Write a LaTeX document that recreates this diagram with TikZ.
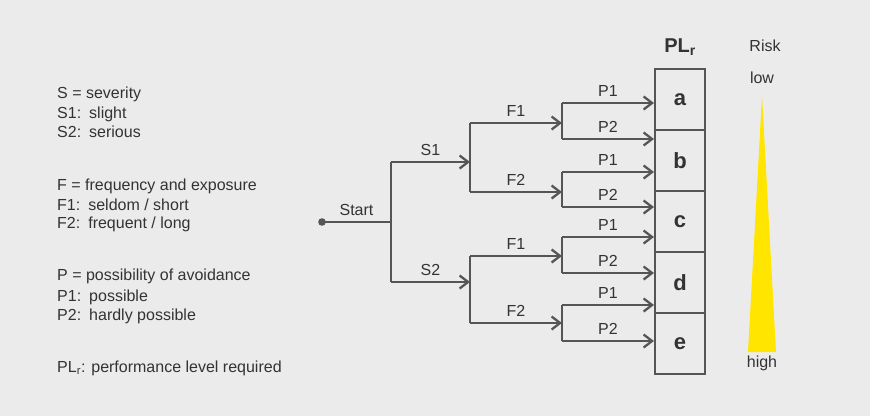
\documentclass[tikz,border=0pt]{standalone}
\usepackage{fontspec}
\setmainfont{Liberation Sans}
\usetikzlibrary{arrows.meta}
\definecolor{bggray}{HTML}{EBEBEC}
\definecolor{txtgray}{HTML}{333333}
\definecolor{linegray}{HTML}{555555}
\definecolor{riskyellow}{HTML}{FFE500}
\begin{document}
\begin{tikzpicture}[x=1pt, y=-1pt,
		every node/.style = {text=txtgray, inner sep=0pt},
		legend/.style = {anchor=west, font=\fontsize{16}{19}\selectfont},
		lbl/.style = {font=\fontsize{16}{19}\selectfont},
		branch/.style = {draw=linegray, line width=2.3pt},
		arr/.style = {branch, -{Straight Barb[length=8.5pt, width=13pt]}},
		plbox/.style = {draw=linegray, line width=1.4pt, minimum width=50pt,
			minimum height=61pt, font=\bfseries\fontsize{22}{25}\selectfont}]
		\useasboundingbox[fill=bggray] (0,0) rectangle (870,416);
		% legend
		\node[legend] (sdef) at (57,94) {S = severity};
		\node[legend] (s1def) at (57,114) {S1:\enspace slight};
		\node[legend] (s2def) at (57,132) {S2:\enspace serious};
		\node[legend] (fdef) at (57,186) {F = frequency and exposure};
		\node[legend] (f1def) at (57,205) {F1:\enspace seldom / short};
		\node[legend] (f2def) at (57,224) {F2:\enspace frequent / long};
		\node[legend] (pdef) at (57,276) {P = possibility of avoidance};
		\node[legend] (p1def) at (57,297) {P1:\enspace possible};
		\node[legend] (p2def) at (57,316) {P2:\enspace hardly possible};
		\node[legend] (pldef) at (57,368) {PL\textsubscript{r}: performance level required};
		% decision tree
		\coordinate (start) at (322,222);
		\coordinate (js) at (391,222);
		\coordinate (s1) at (470,162);
		\coordinate (s2) at (470,282);
		\coordinate (f11) at (562,123);
		\coordinate (f12) at (562,192);
		\coordinate (f21) at (562,256);
		\coordinate (f22) at (562,323);
		\fill[linegray] (start) circle (3.8pt);
		\draw[branch] (start) -- node[lbl, above=5pt] {Start} (js);
		\draw[branch] (js |- s1) -- (js |- s2);
		\draw[arr] (js |- s1) -- node[lbl, above=5pt] {S1} (s1);
		\draw[arr] (js |- s2) -- node[lbl, above=5pt] {S2} (s2);
		\draw[branch] (s1 |- f11) -- (s1 |- f12);
		\draw[branch] (s2 |- f21) -- (s2 |- f22);
		\draw[arr] (s1 |- f11) -- node[lbl, above=5pt] {F1} (f11);
		\draw[arr] (s1 |- f12) -- node[lbl, above=5pt] {F2} (f12);
		\draw[arr] (s2 |- f21) -- node[lbl, above=5pt] {F1} (f21);
		\draw[arr] (s2 |- f22) -- node[lbl, above=5pt] {F2} (f22);
		% required performance levels
		\node[plbox] (a) at (680,99.5) {a};
		\node[plbox] (b) at (680,160.5) {b};
		\node[plbox] (c) at (680,221.5) {c};
		\node[plbox] (d) at (680,282.5) {d};
		\node[plbox] (e) at (680,343.5) {e};
		\node[font=\bfseries\fontsize{20}{23}\selectfont] (plr) at (680,47) {PL\textsubscript{r}};
		\foreach \f/\ya/\yb in {f11/103/139, f12/172/207, f21/237/273, f22/305/341} {
			\coordinate (\f-p1) at (654,\ya);
			\coordinate (\f-p2) at (654,\yb);
			\draw[branch] (\f |- \f-p1) -- (\f |- \f-p2);
			\draw[arr] (\f |- \f-p1) -- node[lbl, above=5pt] {P1} (\f-p1);
			\draw[arr] (\f |- \f-p2) -- node[lbl, above=5pt] {P2} (\f-p2);
		}
		% risk scale
		\node[lbl] (risk) at (765,46) {Risk};
		\node[lbl] (low) at (762,78) {low};
		\node[lbl] (high) at (762,363) {high};
		\coordinate (apex) at (762,96);
		\fill[riskyellow] (apex) -- (776,352) -- (748,352) -- cycle;
	\end{tikzpicture}
\end{document}
